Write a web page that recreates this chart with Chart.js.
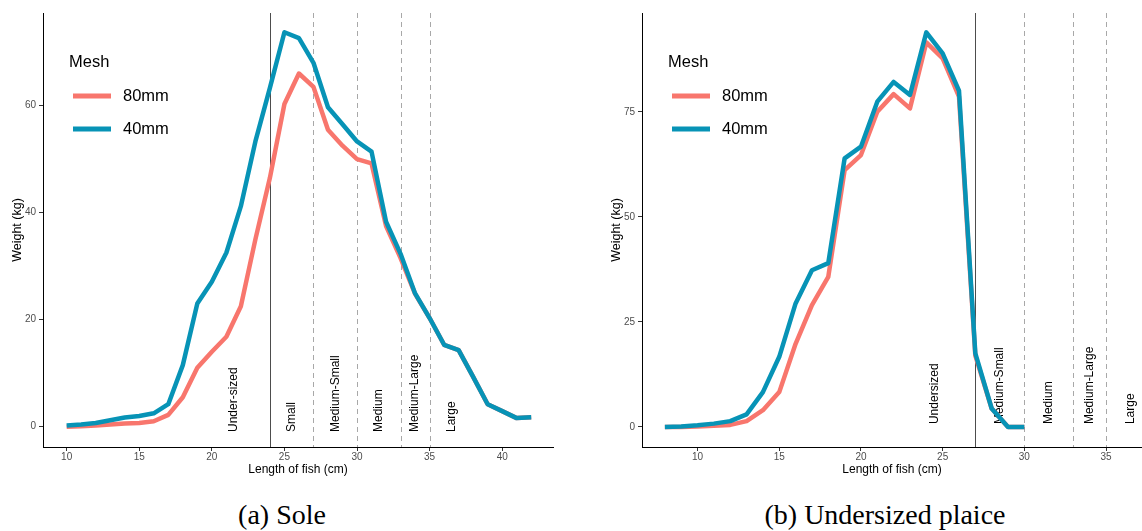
<!DOCTYPE html>
<html>
<head>
<meta charset="utf-8">
<script src="https://cdn.jsdelivr.net/npm/chart.js@4/dist/chart.umd.min.js"></script>
<style>
  body { margin: 0; background: #fff; width: 1142px; height: 531px; overflow: hidden; position: relative; }
  .box { position: absolute; top: 0; height: 480px; }
  #soleBox { left: 0; width: 565px; }
  #plaiceBox { left: 599px; width: 543px; }
  .caption { position: absolute; top: 501px; font-family: "Liberation Serif", serif; font-size: 28px; line-height: 1; text-align: center; color: #000; }
</style>
</head>
<body>
<div class="box" id="soleBox"><canvas id="sole"></canvas></div>
<div class="box" id="plaiceBox"><canvas id="plaice"></canvas></div>
<div class="caption" style="left:182px;width:200px">(a) Sole</div>
<div class="caption" style="left:735px;width:300px">(b) Undersized plaice</div>
<script>
// data
const meshLabels = ['80mm', '40mm'];
const legendTitle = 'Mesh';

const soleLengths = [10, 11, 12, 13, 14, 15, 16, 17, 18, 19, 20, 21, 22, 23, 24, 25, 26, 27, 28, 29, 30, 31, 32, 33, 34, 35, 36, 37, 38, 39, 40, 41, 42];
const sole80 = [0, 0.1, 0.2, 0.4, 0.6, 0.7, 1.0, 2.2, 5.5, 11, 14, 16.8, 22.5, 35, 46.5, 60.3, 66, 63.5, 55.5, 52.5, 50, 49.2, 37.5, 31.5, 24.8, 20.3, 15.3, 14.3, 9.3, 4.2, 2.9, 1.6, 1.75];
const sole40 = [0.2, 0.4, 0.7, 1.2, 1.7, 2.0, 2.5, 4.2, 11.5, 23, 27.1, 32.5, 41.2, 53.3, 63.3, 73.7, 72.6, 68, 59.7, 56.5, 53.3, 51.4, 38.3, 32.3, 24.9, 20.3, 15.3, 14.3, 9.3, 4.2, 2.9, 1.6, 1.75];

const plaiceLengths = [8, 9, 10, 11, 12, 13, 14, 15, 16, 17, 18, 19, 20, 21, 22, 23, 24, 25, 26, 27, 28, 29, 30];
const plaice80 = [0, 0, 0.1, 0.3, 0.5, 1.4, 4.0, 8.3, 19.8, 29, 35.7, 61.1, 64.7, 75, 79.2, 75.8, 91.5, 87.7, 78.6, 17, 4.4, 0, 0];
const plaice40 = [0, 0.1, 0.4, 0.8, 1.4, 3.0, 8.3, 16.7, 29.4, 37.3, 39, 63.9, 66.7, 77.4, 82.1, 79, 93.9, 88.9, 80, 17.5, 4.4, 0, 0];

const soleXTicks = [10, 15, 20, 25, 30, 35, 40];
const soleYTicks = [0, 20, 40, 60];
const plaiceXTicks = [10, 15, 20, 25, 30, 35];
const plaiceYTicks = [0, 25, 50, 75];

// size class boundaries and labels
const soleMinSize = 24;
const soleClassCuts = [27, 30, 33, 35];
const soleClassNames = ['Under-sized', 'Small', 'Medium-Small', 'Medium', 'Medium-Large', 'Large'];
const soleClassAt = [21.5, 25.5, 28.5, 31.5, 34, 36.5];

const plaiceMinSize = 27;
const plaiceClassCuts = [30, 33, 35];
const plaiceClassNames = ['Undersized', 'Medium-Small', 'Medium', 'Medium-Large', 'Large'];
const plaiceClassAt = [24.5, 28.5, 31.5, 34, 36.5];

const COLORS = { m80: '#F8766D', m40: '#0793B6' };
const FONT = '"Liberation Sans", Arial, sans-serif';

const sizeClassPlugin = {
    id: 'sizeClasses',
    beforeDatasetsDraw (chart, args, opts) {
        const { ctx, chartArea: a, scales: { x, y } } = chart;

        ctx.save();
        ctx.beginPath();
        ctx.rect(a.left, a.top, a.width, a.height);
        ctx.clip();

        ctx.lineWidth = 1;
        ctx.strokeStyle = '#4d4d4d';
        const sx = Math.round(x.getPixelForValue(opts.minSize)) + 0.5;
        ctx.beginPath();
        ctx.moveTo(sx, a.top);
        ctx.lineTo(sx, a.bottom);
        ctx.stroke();

        ctx.setLineDash([5, 4]);
        ctx.strokeStyle = '#a8a8a8';
        opts.cuts.forEach(v => {
            const px = Math.round(x.getPixelForValue(v)) + 0.5;
            ctx.beginPath();
            ctx.moveTo(px, a.top);
            ctx.lineTo(px, a.bottom);
            ctx.stroke();
        });
        ctx.setLineDash([]);

        ctx.font = '12px ' + FONT;
        ctx.fillStyle = '#000';
        ctx.textAlign = 'left';
        ctx.textBaseline = 'middle';
        opts.names.forEach((name, i) => {
            ctx.save();
            ctx.translate(x.getPixelForValue(opts.at[i]), y.getPixelForValue(opts.labelY));
            ctx.rotate(-Math.PI / 2);
            ctx.fillText(name, 0, 0);
            ctx.restore();
        });
        ctx.restore();
    }
};

const meshLegendPlugin = {
    id: 'meshLegend',
    afterDraw (chart) {
        const { ctx, chartArea: a } = chart;
        const left = a.left + 26;

        ctx.save();
        ctx.font = '16.5px ' + FONT;
        ctx.fillStyle = '#000';
        ctx.textAlign = 'left';
        ctx.textBaseline = 'middle';
        ctx.fillText(legendTitle, left, a.top + 49);

        chart.data.datasets.forEach((ds, i) => {
            const ly = a.top + 83 + i * 33;
            ctx.strokeStyle = ds.borderColor;
            ctx.lineWidth = 5;
            ctx.beginPath();
            ctx.moveTo(left + 4, ly);
            ctx.lineTo(left + 42, ly);
            ctx.stroke();
            ctx.fillText(ds.label, left + 54, ly);
        });
        ctx.restore();
    }
};

function points (xs, ys) {
    return xs.map((v, i) => ({ x: v, y: ys[i] }));
}

function makeChart (id, cfg) {
    return new Chart(document.getElementById(id), {
        type: 'line',
        data: {
            datasets: [
                {
                    label: meshLabels[0],
                    data: points(cfg.lengths, cfg.m80),
                    borderColor: COLORS.m80,
                    order: 1
                },
                {
                    label: meshLabels[1],
                    data: points(cfg.lengths, cfg.m40),
                    borderColor: COLORS.m40,
                    order: 0
                }
            ]
        },
        options: {
            responsive: true,
            maintainAspectRatio: false,
            animation: false,
            layout: { padding: { top: 13, right: cfg.padRight, left: 0, bottom: 0 } },
            elements: {
                line: { borderWidth: 4.5, tension: 0, borderJoinStyle: 'round', fill: false },
                point: { radius: 0, hoverRadius: 0 }
            },
            plugins: {
                legend: { display: false },
                tooltip: { enabled: false },
                sizeClasses: {
                    minSize: cfg.minSize,
                    cuts: cfg.cuts,
                    names: cfg.names,
                    at: cfg.at,
                    labelY: cfg.labelY
                }
            },
            scales: {
                x: {
                    type: 'linear',
                    min: cfg.xMin,
                    max: cfg.xMax,
                    afterBuildTicks: s => { s.ticks = cfg.xTicks.map(v => ({ value: v })); },
                    afterFit: s => { s.height = 33; },
                    grid: { display: true, drawOnChartArea: false, drawTicks: true, tickLength: 4, color: '#333' },
                    border: { display: true, color: '#000', width: 1 },
                    ticks: { color: '#4d4d4d', font: { family: FONT, size: 10 }, padding: 0, maxRotation: 0 },
                    title: {
                        display: true,
                        text: 'Length of fish (cm)',
                        color: '#000',
                        font: { family: FONT, size: 12, lineHeight: 1.2 },
                        padding: { top: 0, bottom: 3.5 }
                    }
                },
                y: {
                    min: cfg.yMin,
                    max: cfg.yMax,
                    afterBuildTicks: s => { s.ticks = cfg.yTicks.map(v => ({ value: v })); },
                    afterFit: s => { s.width = 43; },
                    grid: { display: true, drawOnChartArea: false, drawTicks: true, tickLength: 4, color: '#333' },
                    border: { display: true, color: '#000', width: 1 },
                    ticks: { color: '#4d4d4d', font: { family: FONT, size: 10 }, padding: 3 },
                    title: {
                        display: true,
                        text: 'Weight (kg)',
                        color: '#000',
                        font: { family: FONT, size: 12.5, lineHeight: 1.2 },
                        padding: { top: 10.5, bottom: 0 }
                    }
                }
            }
        },
        plugins: [sizeClassPlugin, meshLegendPlugin]
    });
}

makeChart('sole', {
    lengths: soleLengths, m80: sole80, m40: sole40,
    xMin: 8.37, xMax: 43.5, yMin: -3.8, yMax: 77.3,
    xTicks: soleXTicks, yTicks: soleYTicks, padRight: 12,
    minSize: soleMinSize, cuts: soleClassCuts, names: soleClassNames, at: soleClassAt, labelY: -1
});

makeChart('plaice', {
    lengths: plaiceLengths, m80: plaice80, m40: plaice40,
    xMin: 6.6, xMax: 37.2, yMin: -4.76, yMax: 98.5,
    xTicks: plaiceXTicks, yTicks: plaiceYTicks, padRight: 0,
    minSize: plaiceMinSize, cuts: plaiceClassCuts, names: plaiceClassNames, at: plaiceClassAt, labelY: 0.7
});
</script>
</body>
</html>
